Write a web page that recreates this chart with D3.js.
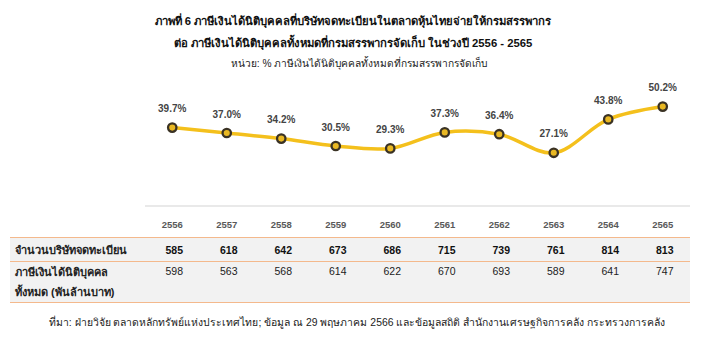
<!DOCTYPE html>
<html>
<head>
<meta charset="utf-8">
<script src="https://cdn.jsdelivr.net/npm/d3@7"></script>
<style>
  html, body { margin: 0; padding: 0; background: #fff; }
  svg { display: block; font-family: "Liberation Sans", Arial, "Noto Sans", sans-serif; }
</style>
</head>
<body>
<svg id="chart" width="708" height="338"></svg>
<script>
const years = ["2556","2557","2558","2559","2560","2561","2562","2563","2564","2565"];
const taxShare = [39.7, 37.0, 34.2, 30.5, 29.3, 37.3, 36.4, 27.1, 43.8, 50.2];
const listedCompanies = [585, 618, 642, 673, 686, 715, 739, 761, 814, 813];
const totalCorpTax = [598, 563, 568, 614, 622, 670, 693, 589, 641, 747];
const titleLines = [
  "ภาพที่ 6 ภาษีเงินได้นิติบุคคลที่บริษัทจดทะเบียนในตลาดหุ้นไทยจ่ายให้กรมสรรพากร",
  "ต่อ ภาษีเงินได้นิติบุคคลทั้งหมดที่กรมสรรพากรจัดเก็บ ในช่วงปี 2556 - 2565"
];
const unitText = "หน่วย: % ภาษีเงินได้นิติบุคคลทั้งหมดที่กรมสรรพากรจัดเก็บ";
const rowLabel1 = "จำนวนบริษัทจดทะเบียน";
const rowLabel2 = ["ภาษีเงินได้นิติบุคคล", "ทั้งหมด (พันล้านบาท)"];
const sourceText = "ที่มา: ฝ่ายวิจัย ตลาดหลักทรัพย์แห่งประเทศไทย; ข้อมูล ณ 29 พฤษภาคม 2566 และข้อมูลสถิติ สำนักงานเศรษฐกิจการคลัง กระทรวงการคลัง";

const svg = d3.select("#chart");

const x = d3.scaleBand().domain(years).range([145, 690]);
const cx = d => x(d) + x.bandwidth() / 2;
const y = d3.scaleLinear().domain([0, 60]).range([207, 87]);

// Title
svg.append("g").selectAll("text").data(titleLines).join("text")
  .attr("x", 353).attr("y", (d, i) => 25 + i * 21.5)
  .attr("text-anchor", "middle")
  .attr("font-size", 11.3).attr("font-weight", "bold").attr("fill", "#111")
  .text(d => d);
svg.append("text").attr("x", 359).attr("y", 66.5)
  .attr("text-anchor", "middle").attr("font-size", 10.2).attr("fill", "#222")
  .text(unitText);

// Table background
svg.append("rect").attr("x", 10).attr("y", 237.5).attr("width", 680).attr("height", 65)
  .attr("fill", "#f2f2f2");

// Baseline (axis)
svg.append("line").attr("x1", 145).attr("x2", 690).attr("y1", y(0) - 1).attr("y2", y(0) - 1)
  .attr("stroke", "#e2e2e2").attr("stroke-width", 1.5);

// Orange table rules
[237.5, 261.5, 302.5].forEach(yy => {
  svg.append("line").attr("x1", 10).attr("x2", 690).attr("y1", yy).attr("y2", yy)
    .attr("stroke", "#f4b98c").attr("stroke-width", 1.2);
});

// Line
const data = years.map((yr, i) => ({ yr, v: taxShare[i] }));
const line = d3.line().x(d => cx(d.yr)).y(d => y(d.v)).curve(d3.curveCatmullRom.alpha(0.5));
svg.append("path").datum(data).attr("d", line)
  .attr("fill", "none").attr("stroke", "#f4c01c").attr("stroke-width", 3.5);

svg.append("g").selectAll("circle").data(data).join("circle")
  .attr("cx", d => cx(d.yr)).attr("cy", d => y(d.v)).attr("r", 4.2)
  .attr("fill", "#e9b823").attr("stroke", "#3a3224").attr("stroke-width", 2.3);

svg.append("g").selectAll("text").data(data).join("text")
  .attr("x", d => cx(d.yr)).attr("y", d => y(d.v) - 15.5)
  .attr("text-anchor", "middle").attr("font-size", 10).attr("font-weight", "bold")
  .attr("fill", "#444")
  .text(d => d.v.toFixed(1) + "%");

// Year header
svg.append("g").selectAll("text").data(years).join("text")
  .attr("x", d => cx(d)).attr("y", 228)
  .attr("text-anchor", "middle").attr("font-size", 9.5).attr("font-weight", "bold")
  .attr("fill", "#595959")
  .text(d => d);

// Row 1
svg.append("text").attr("x", 15).attr("y", 253.5)
  .attr("font-size", 11).attr("font-weight", "bold").attr("fill", "#222").text(rowLabel1);
svg.append("g").selectAll("text").data(listedCompanies).join("text")
  .attr("x", (d, i) => cx(years[i]) + 2).attr("y", 253.5)
  .attr("text-anchor", "middle").attr("font-size", 10.5).attr("font-weight", "bold")
  .attr("fill", "#111").text(d => d);

// Row 2
svg.append("g").selectAll("text").data(rowLabel2).join("text")
  .attr("x", 15).attr("y", (d, i) => 275.5 + i * 20)
  .attr("font-size", 11).attr("font-weight", "bold").attr("fill", "#222").text(d => d);
svg.append("g").selectAll("text").data(totalCorpTax).join("text")
  .attr("x", (d, i) => cx(years[i]) + 2).attr("y", 275)
  .attr("text-anchor", "middle").attr("font-size", 10.5)
  .attr("fill", "#222").text(d => d);

// Source
svg.append("text").attr("x", 357).attr("y", 326)
  .attr("text-anchor", "middle").attr("font-size", 10.4).attr("fill", "#222")
  .text(sourceText);
</script>
</body>
</html>
